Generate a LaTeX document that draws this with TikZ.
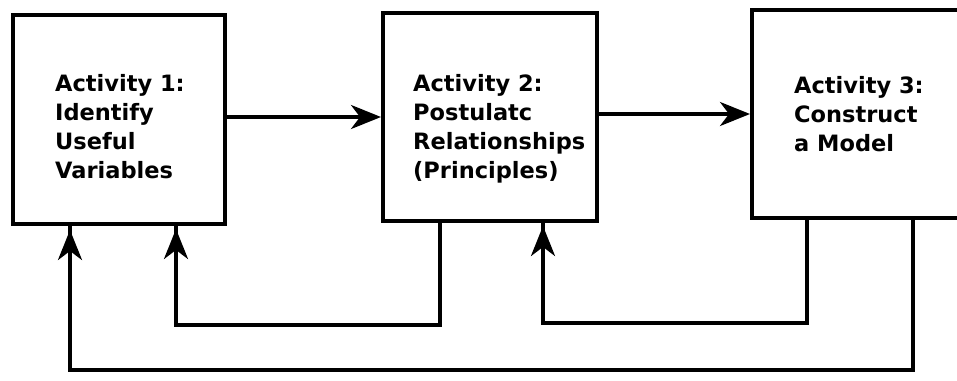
\documentclass[tikz,border=0pt]{standalone}
\usepackage{fontspec}
\setmainfont{DejaVu Sans}
\usetikzlibrary{arrows.meta}
\begin{document}
\begin{tikzpicture}[x=1pt,y=-1pt,
  box/.style={draw=black,line width=4pt,rectangle,inner sep=0pt},
  label/.style={anchor=north west,align=left,inner sep=0pt,font=\fontsize{22.5}{29}\selectfont\bfseries},
  conn/.style={draw=black,line width=3.6pt,line join=miter},
  arr/.style={conn,-{Stealth[length=30pt,width=24pt,inset=9pt]}}]
\useasboundingbox (0,0) rectangle (957,380);
\clip (0,0) rectangle (957,380);
\fill[white] (0,0) rectangle (957,380);
% boxes
\node[box,minimum width=212pt,minimum height=209pt] (box1) at (119,119.5) {};
\node[box,minimum width=214pt,minimum height=208pt] (box2) at (490,117) {};
\node[box,minimum width=240pt,minimum height=208pt] (box3) at (872,114) {};
% texts
\node[label] (t1) at (55,74) {Activity 1:\\Identify\\Useful\\Variables};
\node[label] (t2) at (413,74) {Activity 2:\\Postulatc\\Relationships\\(Principles)};
\node[label] (t3) at (794,76) {Activity 3:\\Construct\\a Model};
% forward arrows
\draw[arr] (box1.east |- box2.west) -- (box2.west);
\draw[arr] (box2.east |- box3.west) -- (box3.west);
% feedback 2 -> 1
\coordinate (a1) at (440,325);
\coordinate (a2) at (176,325);
\coordinate (a3) at (176,229);
\draw[conn] (box2.south -| a1) -- (a1) -- (a2) -- (box1.south -| a2);
\draw[arr] (a2) -- (a3);
% feedback 3 -> 2
\coordinate (b1) at (807,323);
\coordinate (b2) at (543,323);
\coordinate (b3) at (543,226);
\draw[conn] (box3.south -| b1) -- (b1) -- (b2) -- (box2.south -| b2);
\draw[arr] (b2) -- (b3);
% feedback 3 -> 1
\coordinate (c1) at (913,370);
\coordinate (c2) at (70,370);
\coordinate (c3) at (70,230);
\draw[conn] (box3.south -| c1) -- (c1) -- (c2) -- (box1.south -| c2);
\draw[arr] (c2) -- (c3);
\end{tikzpicture}
\end{document}
